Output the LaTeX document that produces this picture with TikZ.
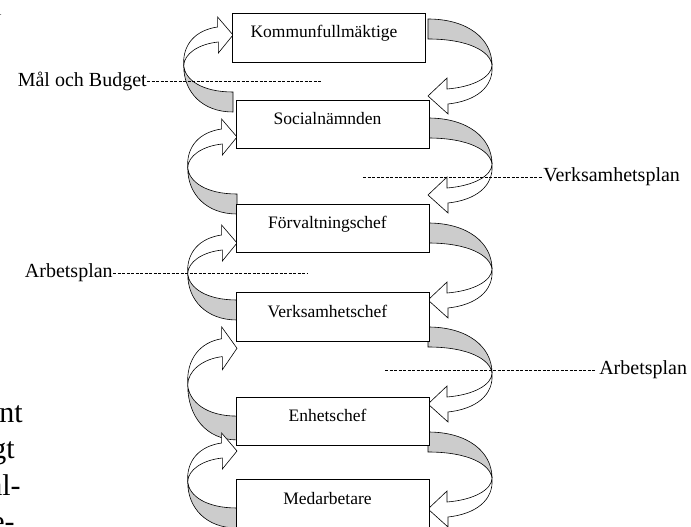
\documentclass[tikz,border=0pt]{standalone}
\usepackage{fontspec}
\setmainfont{Liberation Serif}
\usepackage{tikz}
\usetikzlibrary{positioning}
\definecolor{bandgray}{RGB}{204,204,204}

\begin{document}
\begin{tikzpicture}[x=1pt, y=-1pt, line width=0.6pt,
  box/.style={draw, line width=0.8pt, fill=white, outer sep=0pt, minimum width=193pt, minimum height=48.5pt, text height=12pt, text depth=12pt, font=\fontsize{17.5}{20}\selectfont, execute at begin node=\hspace*{-10pt}},
  lbl/.style={inner sep=0pt, font=\fontsize{20}{24}\selectfont},
  lead/.style={dash pattern=on 3pt off 1.5pt, line width=0.5pt},
  cut/.style={anchor=base east, inner sep=0pt, font=\fontsize{30}{36}\selectfont},
  ribbon/.pic={
    \filldraw[fill=bandgray] (0,-10) .. controls (40,-10) and (64,10) .. (64,36) .. controls (62,22) and (40,10) .. (0,10) -- cycle;
    \filldraw[fill=white] (64,36) .. controls (64,48) and (45,58) .. (19,60) -- (19,49) -- (0,67) -- (20,85) -- (20,75) .. controls (48,72) and (66,58) .. (64,36) -- cycle;
  }]
\useasboundingbox (0,0) rectangle (691,527);
\clip (0,0) rectangle (691,527);

% ribbons right and left of the boxes
\foreach \y in {29,128,233,337,442}
  \pic at (428,\y) {ribbon};
\foreach \x/\y/\s in {233/102/1, 237/204/1, 237/310/1, 237/428/1.19, 237/518/1}
  \pic[xscale=-0.77, yscale=-\s] at (\x,\y) {ribbon};

% the chain of boxes
\node[box] (kf) at (329,38) {Kommunfullmäktige};
\node[box, below=38pt of kf, xshift=3.5pt] (sn) {Socialnämnden};
\node[box, below=55.5pt of sn] (fc) {Förvaltningschef};
\node[box, below=40pt of fc] (vc) {Verksamhetschef};
\node[box, below=56pt of vc] (ec) {Enhetschef};
\node[box, below=34pt of ec] (ma) {Medarbetare};

% labels with dashed leaders
\node[lbl, anchor=east] (mob) at (147,81) {Mål och Budget};
\node[lbl, anchor=west] (vp) at (543,177) {Verksamhetsplan};
\node[lbl, anchor=east] (apl) at (113,273) {Arbetsplan};
\node[lbl, anchor=west, inner xsep=3pt] (apr) at (596,370) {Arbetsplan};
\coordinate (mobend) at (322,81);
\coordinate (vpstart) at (363,177);
\coordinate (aplend) at (307,273);
\coordinate (aprstart) at (385,370);
\draw[lead] (mob) -- (mobend);
\draw[lead] (vpstart) -- (vp);
\draw[lead] (apl) -- (aplend);
\draw[lead] (aprstart) -- (apr);

% page text cut off at the edge
\node[cut, font=\fontsize{18}{20}\selectfont] (frag) at (2,16) {l};
\node[cut] (t1) at (23,422) {nt};
\node[cut] (t2) at (15,458.5) {gt};
\node[cut] (t3) at (21,495) {al-};
\node[cut] (t4) at (15,531.5) {e-};
\end{tikzpicture}
\end{document}
